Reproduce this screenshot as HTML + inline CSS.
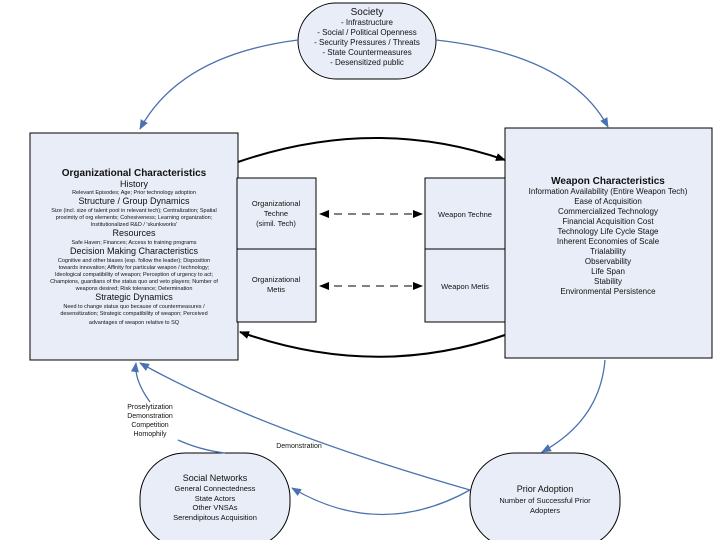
<!DOCTYPE html>
<html><head><style>
html,body{margin:0;padding:0;background:#fff;}
svg{display:block;font-family:"Liberation Sans",sans-serif;}
</style></head><body>
<svg width="720" height="540" viewBox="0 0 720 540" xmlns="http://www.w3.org/2000/svg">
<defs>
<marker id="bk" markerWidth="10" markerHeight="8" refX="9" refY="4" orient="auto" markerUnits="userSpaceOnUse"><path d="M0,0 L10,4 L0,8 z" fill="#000"/></marker>
<marker id="bks" markerWidth="10" markerHeight="8" refX="1" refY="4" orient="auto" markerUnits="userSpaceOnUse"><path d="M10,0 L0,4 L10,8 z" fill="#000"/></marker>
<marker id="bl" markerWidth="10" markerHeight="8" refX="9" refY="4" orient="auto" markerUnits="userSpaceOnUse"><path d="M0,0 L10,4 L0,8 z" fill="#4a72b0"/></marker>
</defs>
<g fill="#e8edf7" stroke="#000" stroke-width="1">
<rect x="298" y="3" width="138" height="76" rx="38"/>
<rect x="30" y="133" width="208" height="227"/>
<rect x="505" y="128" width="207" height="230"/>
<rect x="237" y="178" width="79" height="71"/>
<rect x="237" y="249" width="79" height="73"/>
<rect x="425" y="178" width="80" height="71"/>
<rect x="425" y="249" width="80" height="73"/>
<rect x="140" y="453" width="150" height="95" rx="45"/>
<rect x="470" y="453" width="150" height="95" rx="45"/>
</g>
<g fill="none" stroke="#000" stroke-width="2">
<path d="M238,162 Q375,115 505,160" marker-end="url(#bk)"/>
<path d="M505,335 Q375,380 240,332" marker-end="url(#bk)"/>
</g>
<g fill="none" stroke="#000" stroke-width="1" stroke-dasharray="8,6">
<path d="M320,214 L422,214" marker-end="url(#bk)" marker-start="url(#bks)"/>
<path d="M320,286 L422,286" marker-end="url(#bk)" marker-start="url(#bks)"/>
</g>
<g fill="none" stroke="#4a72b0" stroke-width="1.3">
<path d="M298,40 Q180,55 140,129" marker-end="url(#bl)"/>
<path d="M436,40 Q570,55 608,127" marker-end="url(#bl)"/>
<path d="M605,360 Q600,420 542,452" marker-end="url(#bl)"/>
<path d="M470,490 Q380,540 292,488" marker-end="url(#bl)"/>
<path d="M470,490 Q260,430 140,363" marker-end="url(#bl)"/>
<path d="M150,402 Q134,380 136,363" marker-end="url(#bl)"/>
<path d="M178,440 Q200,450 225,453"/>
</g>
<g font-size="8" text-anchor="middle" fill="#111">
<text x="367" y="15" font-size="10">Society</text>
<text x="367" y="25">- Infrastructure</text>
<text x="367" y="35">- Social / Political Openness</text>
<text x="367" y="45">- Security Pressures / Threats</text>
<text x="367" y="55">- State Countermeasures</text>
<text x="367" y="65">- Desensitized public</text>

<text x="134" y="176" font-size="10" font-weight="bold">Organizational Characteristics</text>
<text x="134" y="187" font-size="9">History</text>
<text x="134" y="194" font-size="5.5">Relevant Episodes; Age; Prior technology adoption</text>
<text x="134" y="204" font-size="9">Structure / Group Dynamics</text>
<text x="134" y="212" font-size="5.5">Size (incl. size of talent pool in relevant tech); Centralization; Spatial</text>
<text x="134" y="219" font-size="5.5">proximity of org elements; Cohesiveness; Learning organization;</text>
<text x="134" y="226" font-size="5.5">Institutionalized R&amp;D / 'skunkworks'</text>
<text x="134" y="236" font-size="9">Resources</text>
<text x="134" y="244" font-size="5.5">Safe Haven; Finances; Access to training programs</text>
<text x="134" y="254" font-size="9">Decision Making Characteristics</text>
<text x="134" y="262" font-size="5.5">Cognitive and other biases (esp. follow the leader); Disposition</text>
<text x="134" y="269" font-size="5.5">towards innovation; Affinity for particular weapon / technology;</text>
<text x="134" y="276" font-size="5.5">Ideological compatibility of weapon; Perception of urgency to act;</text>
<text x="134" y="283" font-size="5.5">Champions, guardians of the status quo and veto players; Number of</text>
<text x="134" y="290" font-size="5.5">weapons desired; Risk tolerance; Determination</text>
<text x="134" y="300" font-size="9">Strategic Dynamics</text>
<text x="134" y="308" font-size="5.5">Need to change status quo because of countermeasures /</text>
<text x="134" y="315" font-size="5.5">desensitization; Strategic compatibility of weapon; Perceived</text>
<text x="134" y="324" font-size="5.5">advantages of weapon relative to SQ</text>

<text x="608" y="184" font-size="10" font-weight="bold">Weapon Characteristics</text>
<text x="608" y="194">Information Availability (Entire Weapon Tech)</text>
<text x="608" y="204">Ease of Acquisition</text>
<text x="608" y="214">Commercialized Technology</text>
<text x="608" y="224">Financial Acquisition Cost</text>
<text x="608" y="234">Technology Life Cycle Stage</text>
<text x="608" y="244">Inherent Economies of Scale</text>
<text x="608" y="254">Trialability</text>
<text x="608" y="264">Observability</text>
<text x="608" y="274">Life Span</text>
<text x="608" y="284">Stability</text>
<text x="608" y="294">Environmental Persistence</text>

<text x="276" y="206" font-size="7.5">Organizational</text>
<text x="276" y="216" font-size="7.5">Techne</text>
<text x="276" y="226" font-size="7.5">(simil. Tech)</text>
<text x="276" y="282" font-size="7.5">Organizational</text>
<text x="276" y="292" font-size="7.5">Metis</text>
<text x="465" y="217" font-size="7.5">Weapon Techne</text>
<text x="465" y="289" font-size="7.5">Weapon Metis</text>

<text x="150" y="409" font-size="7">Proselytization</text>
<text x="150" y="418" font-size="7">Demonstration</text>
<text x="150" y="427" font-size="7">Competition</text>
<text x="150" y="436" font-size="7">Homophily</text>
<text x="299" y="448" font-size="7">Demonstration</text>

<text x="215" y="481" font-size="9">Social Networks</text>
<text x="215" y="491" font-size="7.5">General Connectedness</text>
<text x="215" y="501" font-size="7.5">State Actors</text>
<text x="215" y="510" font-size="7.5">Other VNSAs</text>
<text x="215" y="520" font-size="7.5">Serendipitous Acquisition</text>

<text x="545" y="492" font-size="9">Prior Adoption</text>
<text x="545" y="503" font-size="7.5">Number of Successful Prior</text>
<text x="545" y="513" font-size="7.5">Adopters</text>
</g>
</svg>
</body></html>
